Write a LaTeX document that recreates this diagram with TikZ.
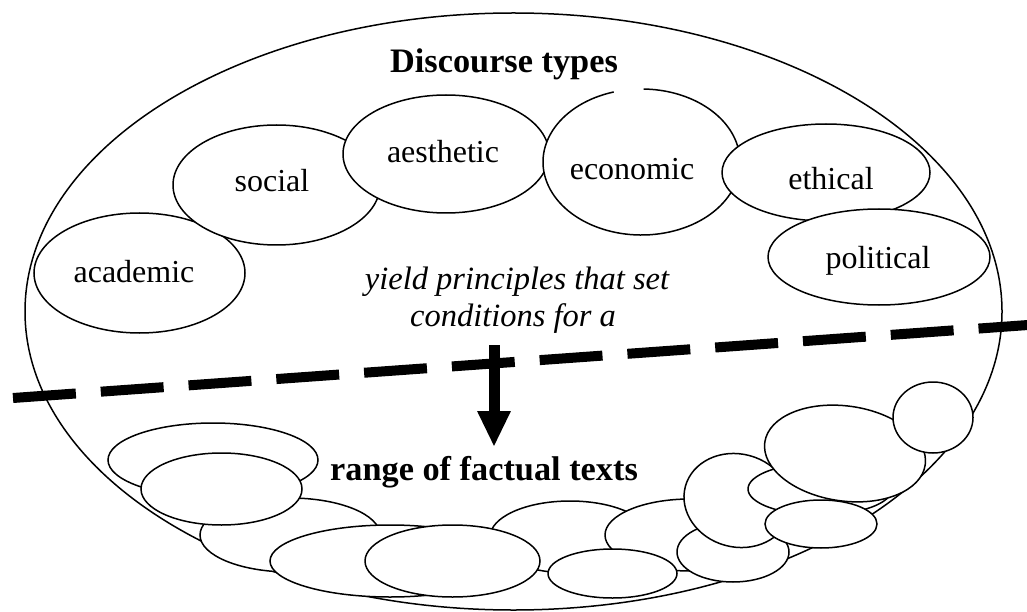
\documentclass[tikz,border=0pt]{standalone}
\usepackage{fontspec}
\setmainfont{Liberation Serif}
\usetikzlibrary{shapes.geometric,arrows.meta}
\begin{document}
\begin{tikzpicture}[x=1pt,y=1pt,
  outline/.style={line width=1.5pt},
  bubble/.style={ellipse,draw=black,fill=white,outline,inner sep=0pt,outer sep=0pt},
  bub/.style n args={2}{bubble,minimum width=#1pt,minimum height=#2pt},
  word/.style={font=\fontsize{32}{38}\selectfont,anchor=base,inner sep=0pt},
  note/.style={font=\fontsize{32.5}{38}\selectfont\itshape,anchor=base,inner sep=0pt},
  heading/.style={font=\fontsize{34.3}{40}\selectfont\bfseries,anchor=base,inner sep=0pt},
  cut/.style={line width=10pt,dash pattern=on 63pt off 25pt},
  flow/.style={line width=11pt,-{Triangle[width=31pt,length=36pt]}}]
\useasboundingbox (0,0) rectangle (1027,-612);

% outer boundary
\node[bub={977}{597}] (frame) at (513.5,-311.5) {};

% discourse types
\node[bub={211}{120}] (academic) at (139.5,-273) {};
\node[bub={207}{120}] (social) at (276.5,-185) {};
\node[bub={206}{118}] (aesthetic) at (446,-154) {};
\node[ellipse,fill=white,inner sep=0pt,minimum width=197pt,minimum height=146pt] (economic) at (641.5,-162) {};
\draw[outline] ([shift={(106.4:98.5 and 73)}]economic.center)
  arc[start angle=106.4,end angle=448.8,x radius=98.5,y radius=73];
\node[bub={208}{97}] (ethical) at (826,-172.5) {};
\node[bub={222}{96}] (political) at (879,-257) {};

\node[heading] (title) at (504,-73) {Discourse types};
\node[word] (academicT) at (134,-282) {academic};
\node[word] (socialT) at (272,-192) {social};
\node[word] (aestheticT) at (443,-163) {aesthetic};
\node[word] (economicT) at (632,-180) {economic};
\node[word] (ethicalT) at (831,-190) {ethical};
\node[word] (politicalT) at (878,-268) {political};

\node[note] (yieldA) at (517,-289) {yield principles that set};
\node[note] (yieldB) at (513,-326) {conditions for a};

% dividing line
\coordinate (cutL) at (13,-398);
\coordinate (cutR) at (1035,-324.5);
\draw[cut] (cutL) -- (cutR);

% arrow
\coordinate (arrowTop) at (494,-345);
\coordinate (arrowTip) at (494,-447);
\draw[flow] (arrowTop) -- (arrowTip);

% factual texts
\node[bub={210}{74}] (t1) at (213,-460) {};
\node[bub={180}{74}] (t3) at (290,-535) {};
\node[bub={161}{72}] (t2) at (221.5,-489) {};
\node[bub={240}{72}] (t4) at (390,-561) {};
\node[bub={160}{72}] (t6) at (570,-537) {};
\node[bub={175}{72}] (t5) at (452.5,-561) {};
\node[bub={170}{72}] (t7) at (690,-535) {};
\node[bub={129}{49}] (t8) at (612.5,-573.5) {};
\node[bub={112}{60}] (t9) at (733,-552) {};
\node[bub={108}{93},rotate=-15] (t10) at (737.5,-500.5) {};
\node[bub={144}{52}] (t11) at (820,-489) {};
\node[bub={112}{48}] (t14) at (821,-524) {};
\node[bub={162}{95},rotate=-8] (t12) at (845,-453.5) {};
\node[bub={80}{71}] (t13) at (933,-417.5) {};

\node[heading] (range) at (484,-480) {range of factual texts};
\end{tikzpicture}
\end{document}
